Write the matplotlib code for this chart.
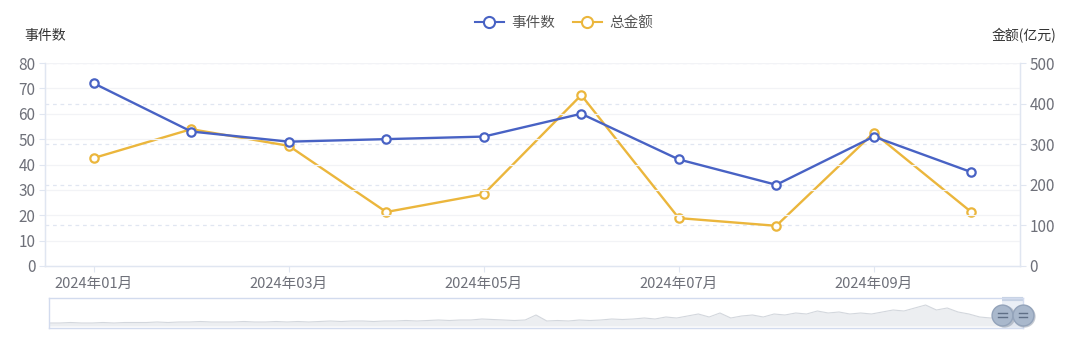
import matplotlib.pyplot as plt
from matplotlib.lines import Line2D

plt.rcParams['font.family'] = ['Noto Sans CJK SC', 'DejaVu Sans']

# data
months = ['2024年01月', '2024年02月', '2024年03月', '2024年04月', '2024年05月',
          '2024年06月', '2024年07月', '2024年08月', '2024年09月', '2024年10月']
event_counts = [72, 53, 49, 50, 51, 60, 42, 32, 51, 37]
total_amount = [266, 337, 296, 133, 177, 421, 118, 99, 328, 133]

left_ticks = [0, 10, 20, 30, 40, 50, 60, 70, 80]
right_ticks = [0, 100, 200, 300, 400, 500]

# rough outline of the data-zoom shadow (px above baseline), evenly spaced
shadow_vals = [3, 3, 3.5, 3, 3, 3.5, 3, 3.5, 3.5, 3.5, 4, 3.5, 4, 4, 4.5, 4,
               4, 4, 4.5, 4, 4, 4.5, 4, 4.5, 4, 4.5, 5, 4.5, 5, 5, 4.5, 5,
               5, 5.5, 5, 5.5, 6, 5.5, 6, 6, 7, 6.5, 6, 5.5, 6, 11, 5, 5.5,
               5, 6, 5.5, 6, 7, 6.5, 7, 8, 7, 9, 8, 10, 12, 9, 13, 8, 10, 11,
               9, 12, 11, 13, 12, 15, 13, 14, 12, 13, 12, 14, 16, 15, 18, 21,
               16, 18, 14, 12, 9, 8, 9, 13, 12]

BLUE = '#4862c4'
YELLOW = '#ebb63c'
LABEL = '#6e7079'
AXIS = '#e0e6f1'

W, H = 1080, 343
fig = plt.figure(figsize=(W / 100, H / 100), dpi=100)

ax = fig.add_axes([45 / W, 1 - 266 / H, 975 / W, 203 / H])
ax2 = ax.twinx()

x = list(range(len(months)))

# gridlines: solid faint for left axis, dashed for right axis
for v in left_ticks[1:]:
    ax.axhline(v, color='#f2f3f6', lw=0.9, zorder=0)
ax2.set_ylim(0, 500)
for v in right_ticks[1:]:
    ax2.axhline(v, color=AXIS, lw=0.9, ls=(0, (3, 3)), zorder=0)

ax.plot(x, event_counts, color=BLUE, lw=1.7, marker='o', ms=6,
        mfc='white', mec=BLUE, mew=1.6, zorder=5, clip_on=False)
ax2.plot(x, total_amount, color=YELLOW, lw=1.7, marker='o', ms=6,
         mfc='white', mec=YELLOW, mew=1.6, zorder=5, clip_on=False)
ax.set_zorder(ax2.get_zorder() + 1)
ax.patch.set_visible(False)

ax.set_xlim(-0.5, len(months) - 0.5)
ax.set_ylim(0, 80)
ax.set_yticks(left_ticks)
ax2.set_yticks(right_ticks)
ax.set_xticks(x[::2])
ax.set_xticklabels(months[::2])

for a in (ax, ax2):
    for s in a.spines.values():
        s.set_color(AXIS)
        s.set_linewidth(0.9)
    a.spines['top'].set_visible(False)
ax.tick_params(axis='x', length=4, color=AXIS, labelcolor=LABEL,
               labelsize=10.5, pad=4)
ax.tick_params(axis='y', length=4, color=AXIS, labelcolor=LABEL,
               labelsize=11, pad=3)
ax2.tick_params(axis='y', length=4, color=AXIS, labelcolor=LABEL,
                labelsize=11, pad=3)

# axis names
fig.text(24 / W, 1 - 36 / H, '事件数', fontsize=10, color='#333333',
         ha='left', va='center')
fig.text(1056 / W, 1 - 36 / H, '金额(亿元)', fontsize=10, color='#333333',
         ha='right', va='center')

# legend
handles = [
    Line2D([], [], color=BLUE, lw=1.5, marker='o', ms=8, mfc='white',
           mec=BLUE, mew=1.5),
    Line2D([], [], color=YELLOW, lw=1.5, marker='o', ms=8, mfc='white',
           mec=YELLOW, mew=1.5),
]
fig.legend(handles, ['事件数', '总金额'], loc='center',
           bbox_to_anchor=(564 / W, 1 - 23 / H), ncol=2, frameon=False,
           fontsize=10.5, handlelength=2.0, handletextpad=0.5,
           columnspacing=1.2, labelcolor='#555555')

# data zoom slider
sl = fig.add_axes([49 / W, 1 - 328 / H, 974 / W, 30 / H])
sl.set_xlim(0, len(shadow_vals) - 1)
sl.set_ylim(-2, 28)
sx = list(range(len(shadow_vals)))
sl.fill_between(sx, 0, shadow_vals, color='#eceef1', lw=0)
sl.plot(sx, shadow_vals, color='#d3d7dd', lw=0.8)
sl.set_xticks([])
sl.set_yticks([])
for s in sl.spines.values():
    s.set_color('#d2dbee')
    s.set_linewidth(1.0)
# selected window and handles at right end
n = len(shadow_vals)
hx = [n - 1 - 1.9, n - 1]
sl.axvspan(hx[0], hx[1], color='#d7e0ee', alpha=0.5, lw=0)
sl.plot(hx, [27.3, 27.3], color='#c6d2e4', lw=3, solid_capstyle='butt',
        clip_on=False)
for h in hx:
    sl.plot([h + 0.12], [10.3], marker='o', ms=16, mfc='#8d97a6', mec='none',
            alpha=0.5, clip_on=False, zorder=5)
    sl.plot([h], [11], marker='o', ms=15, mfc='#a9b8cc', mec='#93a3ba',
            mew=1, clip_on=False, zorder=6)
    for dy in (-1.8, 1.8):
        sl.plot([h - 0.4, h + 0.4], [11 + dy, 11 + dy], color='#5f6f86',
                lw=1, clip_on=False, zorder=7)

fig.savefig('out.png', dpi=100, facecolor='white')
